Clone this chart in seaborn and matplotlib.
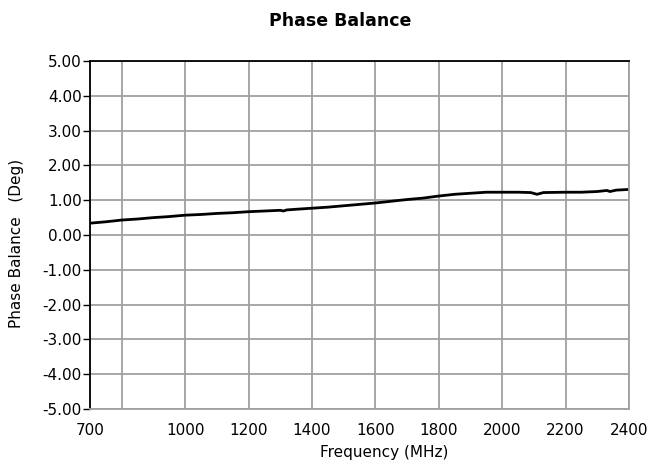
import pandas as pd
import matplotlib
matplotlib.use("Agg")
import matplotlib.pyplot as plt
import seaborn as sns

# Phase balance readings (MHz, degrees)
freq_mhz = [700, 750, 800, 850, 900, 950, 1000, 1050, 1100, 1150, 1200,
            1250, 1300, 1310, 1320, 1350, 1400, 1450, 1500, 1550, 1600,
            1650, 1700, 1750, 1800, 1850, 1900, 1950, 2000, 2050, 2090,
            2110, 2130, 2200, 2250, 2300, 2330, 2340, 2360, 2400]
phase_deg = [0.34, 0.38, 0.43, 0.46, 0.50, 0.53, 0.57, 0.59, 0.62, 0.64, 0.67,
             0.69, 0.71, 0.69, 0.72, 0.74, 0.77, 0.80, 0.84, 0.88, 0.92,
             0.97, 1.02, 1.06, 1.12, 1.17, 1.20, 1.23, 1.23, 1.23, 1.22,
             1.17, 1.22, 1.23, 1.23, 1.25, 1.28, 1.25, 1.29, 1.31]

x_ticks = [700, 800, 1000, 1200, 1400, 1600, 1800, 2000, 2200, 2400]
x_tick_labels = ["700", "", "1000", "1200", "1400", "1600", "1800", "2000", "2200", "2400"]
y_ticks = [5, 4, 3, 2, 1, 0, -1, -2, -3, -4, -5]

df = pd.DataFrame({"Frequency": freq_mhz, "Phase": phase_deg})

sns.set_style("white")
plt.rcParams["font.family"] = ["DejaVu Sans"]
plt.rcParams["text.color"] = "black"
plt.rcParams["xtick.color"] = "black"
plt.rcParams["ytick.color"] = "black"
plt.rcParams["axes.labelcolor"] = "black"

fig = plt.figure(figsize=(6.49, 4.73), dpi=100)
ax = fig.add_axes([0.1387, 0.1353, 0.8305, 0.7357])

sns.lineplot(data=df, x="Frequency", y="Phase", color="black", linewidth=2, ax=ax)

ax.set_xlim(700, 2400)
ax.set_ylim(-5, 5)
ax.set_xticks(x_ticks)
ax.set_xticklabels(x_tick_labels, fontsize=11)
ax.set_yticks(y_ticks)
ax.set_yticklabels([f"{v:.2f}" for v in y_ticks], fontsize=11)

ax.grid(True, color="#a0a0a0", linewidth=1.3)
ax.set_axisbelow(True)
ax.tick_params(axis="x", length=0, pad=10)
ax.tick_params(axis="y", length=5, width=1, color="black", pad=1, left=True)

for side in ["top", "left"]:
    ax.spines[side].set_color("black")
    ax.spines[side].set_linewidth(1.3)
for side in ["bottom", "right"]:
    ax.spines[side].set_color("#a0a0a0")
    ax.spines[side].set_linewidth(1.3)

ax.set_xlabel("")
ax.set_ylabel("")
fig.text(0.026, 0.486, "Phase Balance   (Deg)", fontsize=11, rotation=90,
         ha="center", va="center")
fig.text(0.592, 0.033, "Frequency (MHz)", fontsize=11, ha="center")
fig.text(0.524, 0.945, "Phase Balance", fontsize=12.5, fontweight="bold", ha="center")

plt.savefig("out.png", dpi=100)
